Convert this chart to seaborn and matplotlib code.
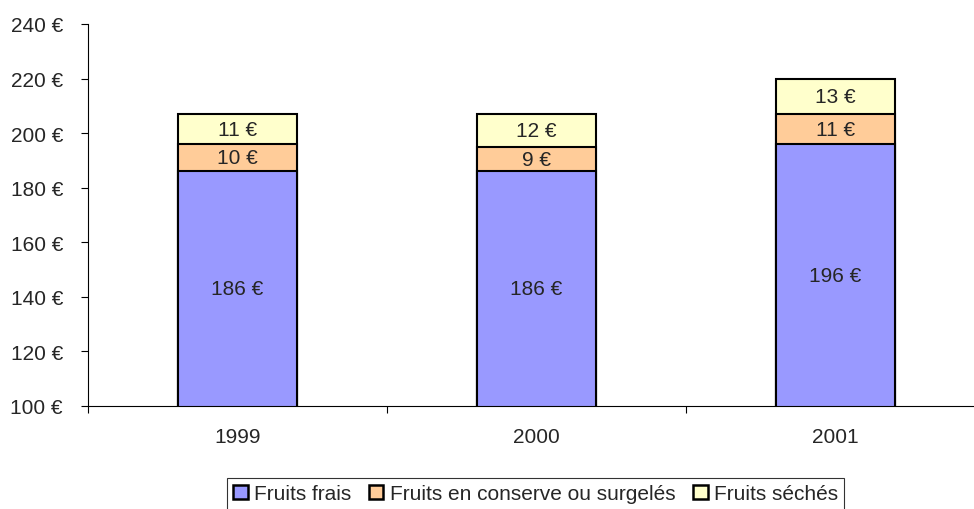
import numpy as np
import pandas as pd
import matplotlib.pyplot as plt
import seaborn as sns
from matplotlib.patches import Patch
from matplotlib.ticker import FixedLocator

years = ["1999", "2000", "2001"]
frais = [186, 186, 196]
conserve = [10, 9, 11]
seches = [11, 12, 13]

series = ["Fruits frais", "Fruits en conserve ou surgelés", "Fruits séchés"]
colors = ["#9999FF", "#FFCC99", "#FFFFCC"]
FS = 15


def main():
    sns.set_style("white")
    plt.rcParams["font.family"] = ["Liberation Sans", "DejaVu Sans"]

    fig = plt.figure(figsize=(9.74, 5.10), dpi=100)
    ax = fig.add_axes([88 / 974, 1 - 407 / 510, (985 - 88) / 974, (407 - 25) / 510])

    c1 = np.array(frais)
    c2 = c1 + np.array(conserve)
    c3 = c2 + np.array(seches)
    # overlap method: tallest first
    for cum, col in zip([c3, c2, c1], colors[::-1]):
        df = pd.DataFrame({"year": years, "v": cum})
        sns.barplot(data=df, x="year", y="v", color=col, width=0.4,
                    edgecolor="black", linewidth=1.5, saturation=1, ax=ax)

    ax.set_ylim(100, 240)
    ax.set_xlim(-0.5, 2.5)
    ax.set_yticks(range(100, 241, 20))
    ax.set_yticklabels([f"{v} €" for v in range(100, 241, 20)], fontsize=FS)
    ax.set_xticks(range(3))
    ax.set_xticklabels(years, fontsize=FS)
    ax.xaxis.set_minor_locator(FixedLocator([-0.5, 0.5, 1.5, 2.5]))
    ax.tick_params(axis="x", which="major", length=0, pad=15)
    ax.tick_params(axis="x", which="minor", bottom=True, length=5, width=0.8,
                   direction="out", color="black")
    ax.tick_params(axis="y", left=True, length=5, width=0.8, direction="out",
                   color="black", pad=13)
    ax.set_xlabel(""); ax.set_ylabel("")
    for s in ["top", "right"]:
        ax.spines[s].set_visible(False)
    for s in ["left", "bottom"]:
        ax.spines[s].set_color("black"); ax.spines[s].set_linewidth(0.8)

    for i in range(3):
        ax.text(i, (100 + c1[i]) / 2, f"{frais[i]} €", ha="center", va="center", fontsize=FS)
        ax.text(i, (c1[i] + c2[i]) / 2, f"{conserve[i]} €", ha="center", va="center", fontsize=FS)
        ax.text(i, (c2[i] + c3[i]) / 2, f"{seches[i]} €", ha="center", va="center", fontsize=FS)

    handles = [Patch(facecolor=c, edgecolor="black", linewidth=1.8) for c in colors]
    leg = fig.legend(handles, series, loc="upper center", bbox_to_anchor=(535.5 / 974, 1 - 479 / 510),
                     ncol=3, frameon=True, fancybox=False, fontsize=FS, handlelength=0.7,
                     handleheight=0.7, handletextpad=0.3, columnspacing=0.85,
                     borderpad=0.3, borderaxespad=0)
    leg.get_frame().set_edgecolor("black"); leg.get_frame().set_linewidth(0.8)

    fig.savefig("out.png", dpi=100)
    plt.close(fig)


if __name__ == "__main__":
    main()
